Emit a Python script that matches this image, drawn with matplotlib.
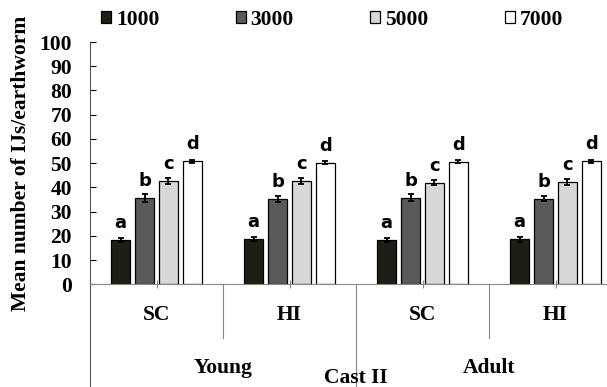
import numpy as np
import matplotlib
matplotlib.use("Agg")
import matplotlib.pyplot as plt

# Data
groups = ["SC", "HI", "SC", "HI"]
stages = ["Young", "Adult"]
cast_label = "Cast II"
doses = ["1000", "3000", "5000", "7000"]
means_1000 = [18.2, 18.6, 18.2, 18.6]
means_3000 = [35.7, 35.3, 35.7, 35.3]
means_5000 = [42.7, 42.6, 42.0, 42.2]
means_7000 = [50.8, 50.2, 50.6, 50.8]
err_1000 = [0.9, 0.9, 0.9, 1.1]
err_3000 = [1.6, 1.3, 1.5, 1.0]
err_5000 = [1.2, 1.3, 1.0, 1.2]
err_7000 = [0.6, 0.7, 0.7, 0.6]
letters = ["a", "b", "c", "d"]
yticks = list(range(0, 101, 10))

SERIF = "Liberation Serif"
FS = 15.5
colors = ["#1e1e14", "#5a5a5a", "#d8d8d8", "#ffffff"]

fig = plt.figure(figsize=(6.07, 3.87), dpi=100)
ax = fig.add_axes([90 / 607, 102.7 / 387, 1 - 90 / 607, (345 - 102.7) / 387])

means = [means_1000, means_3000, means_5000, means_7000]
errs = [err_1000, err_3000, err_5000, err_7000]
centers = np.arange(len(groups)) + 0.5
width = 0.147
step = 0.18

for k in range(len(doses)):
    xs = centers + (k - 1.5) * step
    ax.bar(xs, means[k], width, color=colors[k], edgecolor="black",
           linewidth=0.9, label=doses[k], zorder=2)
    ax.errorbar(xs, means[k], yerr=errs[k], fmt="none", ecolor="black",
                elinewidth=1.3, capsize=2.5, capthick=1.3, zorder=3)
    for x, m in zip(xs, means[k]):
        ax.text(x, m + 7, letters[k], ha="center", va="center",
                fontsize=13, fontweight="bold", family="DejaVu Sans")

ax.set_xlim(0, (607 - 90) / 133)
ax.set_ylim(0, 100)
ax.set_yticks(yticks)
ax.set_yticklabels([str(t) for t in yticks], family=SERIF, fontweight="bold",
                   fontsize=FS)
ax.tick_params(axis="y", direction="in", length=4, width=0.8, pad=13)
ax.set_xticks(centers)
ax.set_xticklabels([])
ax.tick_params(axis="x", direction="inout", length=6, width=0.8, color="#888888")
for s in ["top", "right"]:
    ax.spines[s].set_visible(False)
ax.spines["bottom"].set_color("#888888")
ax.spines["left"].set_color("#555555")

ax.set_ylabel("Mean number of IJs/earthworm", family=SERIF, fontweight="bold",
              fontsize=FS, labelpad=6)

# hierarchical category axis below the plot
y_px = 2.42  # pixels per data unit
ax.plot([0, 0], [0, -110 / y_px], color="#555555", lw=0.8, clip_on=False)
for xb in [1, 3]:
    ax.plot([xb, xb], [0, -54 / y_px], color="#888888", lw=0.8, clip_on=False)
ax.plot([2, 2], [0, -110 / y_px], color="#888888", lw=0.8, clip_on=False)

for c, g in zip(centers, groups):
    ax.text(c, -14.8, g, ha="center", va="baseline", family=SERIF,
            fontweight="bold", fontsize=FS)
for xs_, st in zip([1, 3], stages):
    ax.text(xs_, -36.6, st, ha="center", va="baseline", family=SERIF,
            fontweight="bold", fontsize=FS)
ax.text(2, -40.6, cast_label, ha="center", va="baseline", family=SERIF,
        fontweight="bold", fontsize=FS)

fig.legend(loc="center left", bbox_to_anchor=(101 / 607, 1 - 20 / 387),
           ncol=4, frameon=False, borderpad=0, borderaxespad=0,
           handlelength=0.46, handleheight=0.46, handletextpad=0.23,
           columnspacing=3.55,
           prop={"family": SERIF, "weight": "bold", "size": FS})

fig.savefig("out.png", dpi=100)
